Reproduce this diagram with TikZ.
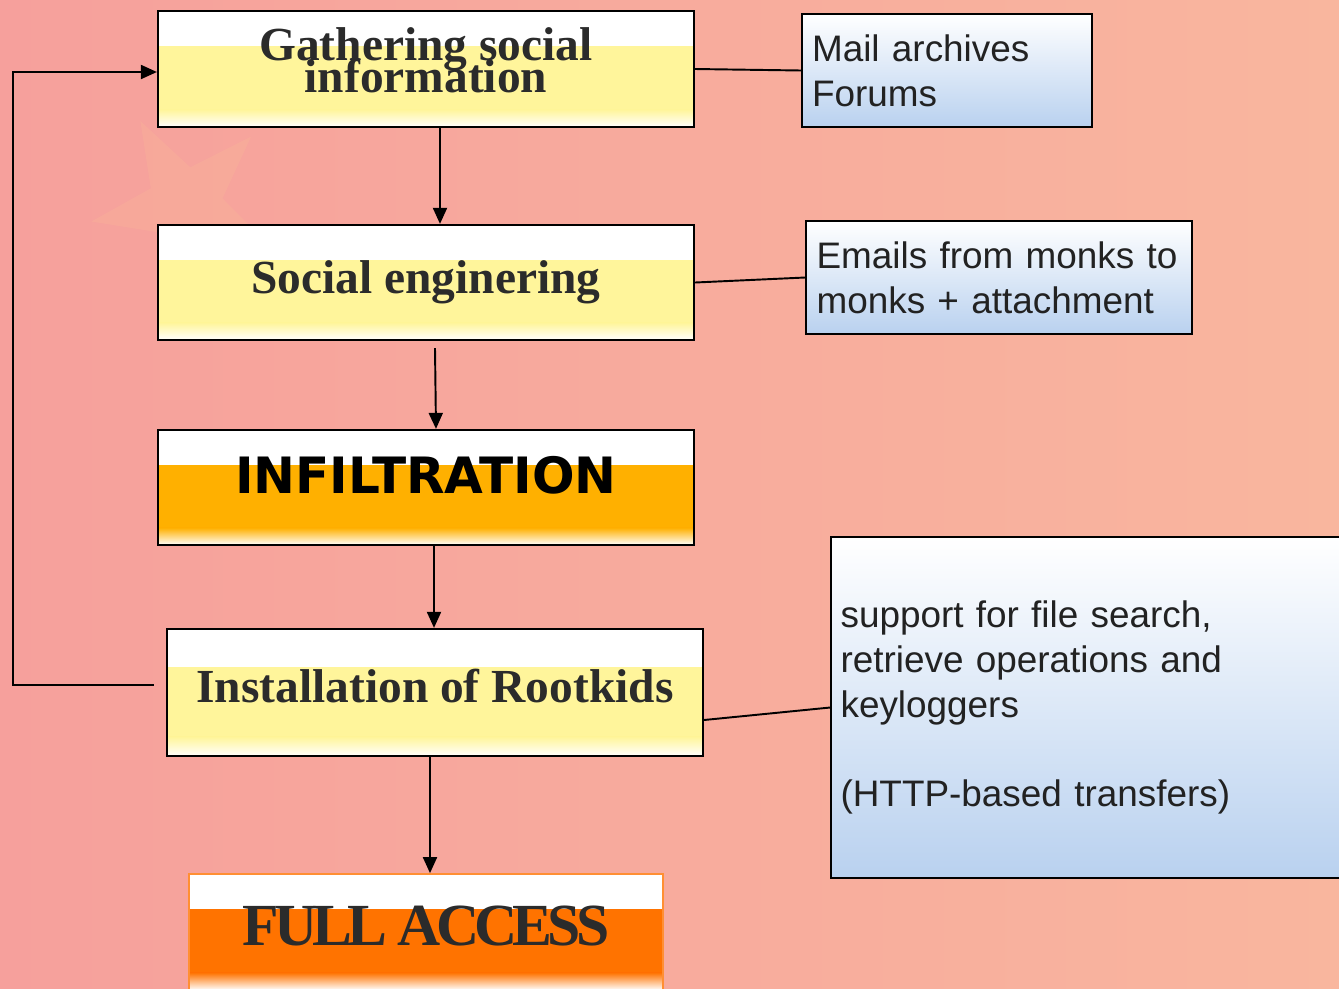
\documentclass[tikz,border=0pt]{standalone}
\usepackage{fontspec}
\setmainfont{Liberation Serif}
\setsansfont{Liberation Sans}
\newfontfamily\comicfont{DejaVu Sans}
\newfontfamily\tightserif[LetterSpace=-8]{Liberation Serif}
\usetikzlibrary{arrows.meta,calc}

\definecolor{bgleft}{RGB}{246,160,156}
\definecolor{bgright}{RGB}{249,182,158}
\definecolor{starorange}{RGB}{252,200,150}
\definecolor{softyellow}{RGB}{255,245,155}
\definecolor{infilorange}{RGB}{255,176,0}
\definecolor{fullorange}{RGB}{255,115,0}
\definecolor{paleblue}{RGB}{185,209,239}
\definecolor{headtext}{RGB}{43,43,43}
\definecolor{infotext}{RGB}{34,34,34}

\newcommand{\headfont}{\fontsize{27pt}{18.5pt}\selectfont\bfseries\lineskiplimit=-100pt}
\newcommand{\infofont}{\sffamily\fontsize{21pt}{25.5pt}\selectfont}

\begin{document}
\begin{tikzpicture}[x=0.02cm, y=-0.02cm,
  band/.style={path picture={
    \fill[white] (path picture bounding box.north west) rectangle
      ($(path picture bounding box.north east)!0.3!(path picture bounding box.south east)$);
    \fill[#1] ($(path picture bounding box.north west)!0.3!(path picture bounding box.south west)$) rectangle
      ($(path picture bounding box.north east)!0.85!(path picture bounding box.south east)$);
    \shade[top color=#1, bottom color=white]
      ($(path picture bounding box.north west)!0.85!(path picture bounding box.south west)$) rectangle
      (path picture bounding box.south east);
  }},
  stepbox/.style={draw=black, line width=1.3pt, minimum width=10.72cm, minimum height=2.32cm,
    align=center, text=headtext, font=\headfont},
  infobox/.style={draw=black, line width=1pt, top color=white, bottom color=paleblue,
    align=left, text=infotext, font=\infofont, inner xsep=0.2cm},
  flow/.style={-{Triangle[length=0.32cm,width=0.28cm]}, line width=1.1pt},
  link/.style={line width=1.1pt}]

  % background
  \useasboundingbox (0,0) rectangle (1339,988);
  \clip (0,0) rectangle (1339,988);
  \shade[left color=bgleft, right color=bgright] (0,0) rectangle (1339,988);
  \fill[starorange, opacity=0.18, shift={(185,205)}, rotate=-8]
    plot[samples at={0,...,9}] ({\x*36+90}:{ifthenelse(mod(\x,2)==0,95,38)}) -- cycle;

  % main chain
  \node[stepbox, band=softyellow] (gather) at (426,69) {Gathering social\\information\rule[-10pt]{0pt}{1pt}};
  \node[stepbox, band=softyellow, minimum height=2.30cm] (social) at (426,282.5) {Social enginering};
  \node[stepbox, band=infilorange, minimum height=2.30cm,
    font={\comicfont\bfseries\fontsize{28.5pt}{30pt}\selectfont}, text=black] (infil) at (426,487.5)
    {INFILTRATION\rule[-14pt]{0pt}{1pt}};
  \node[stepbox, band=softyellow, minimum height=2.54cm] (install) at (435,692.5)
    {Installation of Rootkids\rule[-8pt]{0pt}{1pt}};
  \node[stepbox, band=fullorange, draw=fullorange!80!white, line width=1pt, minimum width=9.48cm,
    font={\tightserif\bfseries\fontsize{34pt}{36pt}\selectfont}] (full) at (426,932)
    {FULL ACCESS\rule[-7pt]{0pt}{1pt}};

  % side notes
  \node[infobox, minimum width=5.8cm, minimum height=2.26cm, text width=5.4cm] (mail) at (947,70.5)
    {Mail archives\\Forums};
  \node[infobox, minimum width=7.72cm, minimum height=2.26cm, text width=7.3cm] (emails) at (999,277.5)
    {Emails from monks to\\monks + attachment};
  \node[infobox, minimum width=10.28cm, minimum height=6.82cm, text width=9.9cm, inner xsep=0.18cm] (support) at (1088,707.5)
    {support for file search,\\retrieve operations and\\keyloggers\\[25.5pt](HTTP-based transfers)};

  % arrows
  \draw[flow] ([xshift=0.28cm]gather.south) -- ([xshift=0.28cm]social.north);
  \draw[flow] ([xshift=0.18cm,yshift=-0.14cm]social.south) -- ([xshift=0.2cm]infil.north);
  \draw[flow] ([xshift=0.16cm]infil.south) -- ([xshift=-0.02cm]install.north);
  \draw[flow] ([xshift=-0.1cm]install.south) -- ([xshift=0.08cm]full.north);

  \coordinate (back) at (13,685);
  \draw[flow] ([xshift=-0.24cm,yshift=0.15cm]install.west) -- (back) |- ([yshift=-0.06cm]gather.west);

  \draw[link] (gather.east) -- (mail.west);
  \draw[link] (social.east) -- (emails.west);
  \draw[link] ([yshift=-0.55cm]install.east) -- (support.west);
\end{tikzpicture}
\end{document}
